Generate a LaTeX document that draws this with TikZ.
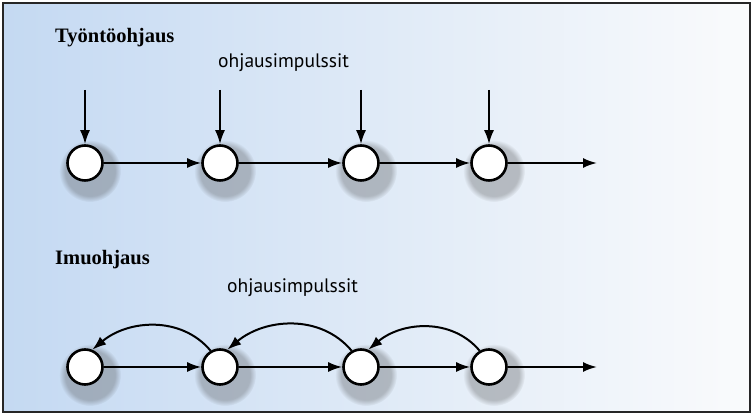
\documentclass[tikz,border=0pt]{standalone}
\usepackage{fontspec}
\setmainfont{Liberation Serif}
\newfontfamily\labelfont{PT Sans}
\usetikzlibrary{arrows.meta,positioning,fadings}

\definecolor{bgleft}{RGB}{196,217,242}
\definecolor{bgright}{RGB}{250,251,252}

\tikzset{
  state/.style={circle, draw, line width=2.6pt, fill=white, minimum size=35pt, inner sep=0pt},
  blur/.style={fill=black!75, opacity=0.3, path fading=circle with fuzzy edge 20 percent},
  flow/.style={-{Latex[length=14pt,width=10pt]}, line width=2pt},
  heading/.style={font=\bfseries\fontsize{20.5}{24}\selectfont, anchor=west, inner sep=0pt},
  impulse/.style={font=\labelfont\fontsize{19.5}{23}\selectfont, anchor=west, inner sep=0pt}
}

\begin{document}
\begin{tikzpicture}[x=1pt,y=1pt]
        \useasboundingbox (0,0) rectangle (755,419);
        \shade[left color=bgleft, right color=bgright] (3,7) rectangle (750,416);
        \draw[line width=2.2pt, black!85] (3,7) rectangle (750,416);

        % Työntöohjaus
        \node[heading] (push) at (55,381) {Työntöohjaus};
        \node[impulse] (pushimp) at (218,356) {ohjausimpulssit};
        \foreach \i/\x in {1/85,2/220,3/361,4/489}{
          \fill[blur] (\x+5,248) circle (31pt);
          \node[state] (t\i) at (\x,256) {};
          \coordinate (p\i) at (\x,329);
          \draw[flow] (p\i) -- (t\i);
        }
        \coordinate (tout) at (597,256);
        \draw[flow] (t1) -- (t2);
        \draw[flow] (t2) -- (t3);
        \draw[flow] (t3) -- (t4);
        \draw[flow] (t4) -- (tout);

        % Imuohjaus
        \node[heading] (pull) at (55,159) {Imuohjaus};
        \node[impulse] (pullimp) at (227,131) {ohjausimpulssit};
        \foreach \i/\x in {1/85,2/220,3/361,4/489}{
          \fill[blur] (\x+5,44) circle (31pt);
          \node[state] (b\i) at (\x,52) {};
        }
        \coordinate (bout) at (597,52);
        \draw[flow] (b1) -- (b2);
        \draw[flow] (b2) -- (b3);
        \draw[flow] (b3) -- (b4);
        \draw[flow] (b4) -- (bout);
        \draw[flow] (b2.120) to[out=130,in=40] (b1.67);
        \draw[flow] (b3.120) to[out=130,in=40] (b2.67);
        \draw[flow] (b4.120) to[out=130,in=40] (b3.67);
\end{tikzpicture}
\end{document}
